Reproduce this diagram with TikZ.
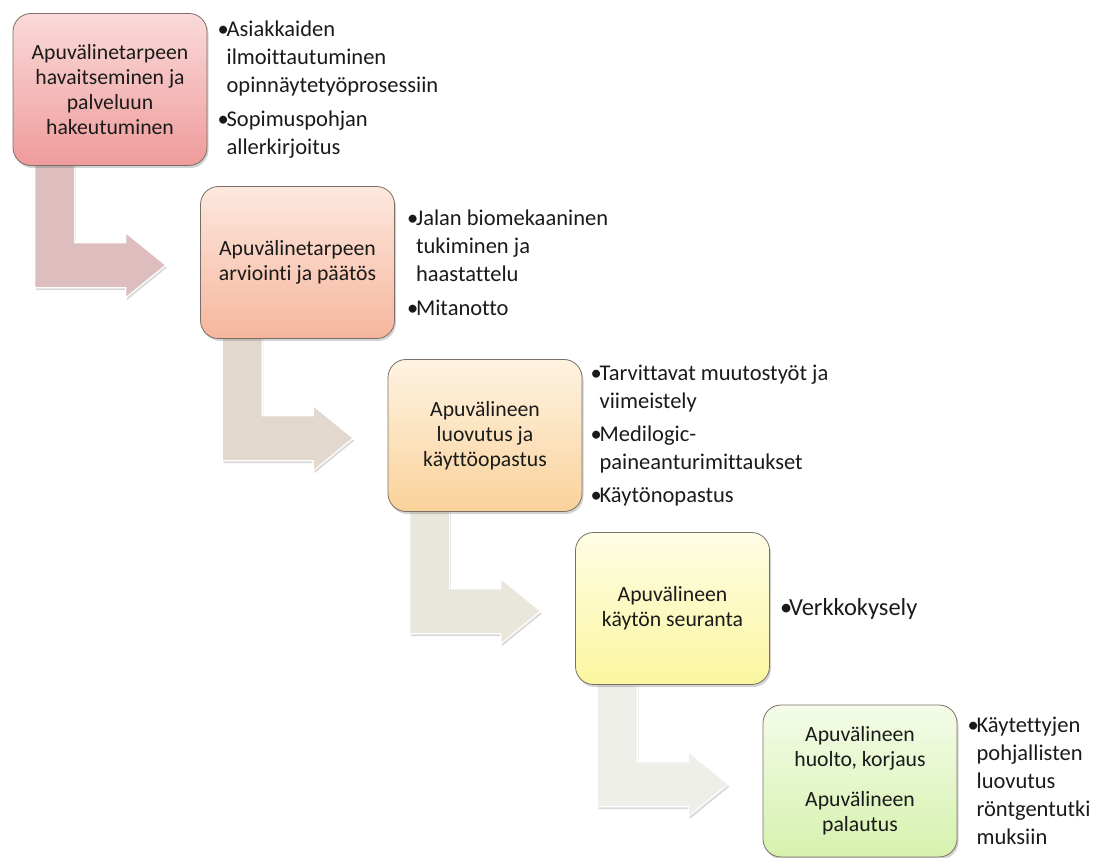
\documentclass[tikz,border=0pt]{standalone}
\usepackage{fontspec}
\setmainfont{Carlito}[Ligatures=NoCommon]
\usetikzlibrary{shadows,calc}
\definecolor{txt}{HTML}{1A1A1A}
\definecolor{boxline}{HTML}{7A6F66}
\definecolor{t1}{HTML}{FADAD9}\definecolor{u1}{HTML}{EF9B9B}
\definecolor{t2}{HTML}{FDE8DE}\definecolor{u2}{HTML}{F6B69D}
\definecolor{t3}{HTML}{FEF3E2}\definecolor{u3}{HTML}{FAD29A}
\definecolor{t4}{HTML}{FEFDE6}\definecolor{u4}{HTML}{FBF69F}
\definecolor{t5}{HTML}{F4FCE8}\definecolor{u5}{HTML}{D6F1AE}
\definecolor{a1}{HTML}{DDBDBE}
\definecolor{a2}{HTML}{E3D8CE}
\definecolor{a3}{HTML}{E9E6DC}
\definecolor{a4}{HTML}{EEEFE8}
\newcommand\bul{\makebox[9pt][l]{•}}
\newcommand\ind{\hspace*{9pt}}
\newcommand\bentarrow[2]{%
  \fill[bentshape, fill=#2]
    ($(#1.south west)+(22,-4)$) -- ($(#1.south west)+(62,-4)$)
    -- ($(#1.south west)+(62,77)$) -- ($(#1.south west)+(113,77)$)
    -- ($(#1.south west)+(113,67)$) -- ($(#1.south west)+(153,99.5)$)
    -- ($(#1.south west)+(113,132)$) -- ($(#1.south west)+(113,122)$)
    -- ($(#1.south west)+(22,122)$) -- cycle;}
\begin{document}
\begin{tikzpicture}[x=1pt,y=-1pt,
  box/.style={draw=boxline, line width=0.8pt, rounded corners=18pt,
    minimum width=194pt, minimum height=152pt, align=center, inner sep=4pt,
    font=\fontsize{21.7}{25}\selectfont, text=txt,
    drop shadow={opacity=0.35, shadow xshift=1.5pt, shadow yshift=-2.5pt}},
  note/.style={anchor=west, align=left, inner sep=0pt,
    font=\fontsize{22.5}{28}\selectfont, text=txt},
  bentshape/.style={draw=white, line width=1.2pt,
    drop shadow={opacity=0.3, shadow xshift=1pt, shadow yshift=-2.5pt}}]
\useasboundingbox (0,0) rectangle (1100,858);
\path (110,89.5) node[minimum width=194pt, minimum height=152pt] (p1) {};
\path (297.5,262.5) node[minimum width=194pt, minimum height=152pt] (p2) {};
\path (485,435.5) node[minimum width=194pt, minimum height=152pt] (p3) {};
\path (672.5,608.5) node[minimum width=194pt, minimum height=152pt] (p4) {};
\bentarrow{p1}{a1}
\bentarrow{p2}{a2}
\bentarrow{p3}{a3}
\bentarrow{p4}{a4}
\node[box, top color=t1, bottom color=u1] (b1) at (p1) {Apuvälinetarpeen\\havaitseminen ja\\palveluun\\hakeutuminen};
\node[box, top color=t2, bottom color=u2] (b2) at (p2) {Apuvälinetarpeen\\arviointi ja päätös};
\node[box, top color=t3, bottom color=u3] (b3) at (p3) {Apuvälineen\\luovutus ja\\käyttöopastus};
\node[box, top color=t4, bottom color=u4] (b4) at (p4) {Apuvälineen\\käytön seuranta};
\node[box, top color=t5, bottom color=u5] (b5) at (860,781) {Apuvälineen\\huolto, korjaus\\[15pt]Apuvälineen\\palautus};
\node[note] (n1) at ($(b1.east)+(10,0)$) {\bul Asiakkaiden\\\ind ilmoittautuminen\\\ind opinnäytetyöprosessiin\\[6pt]\bul Sopimuspohjan\\\ind allerkirjoitus};
\node[note] (n2) at ($(b2.east)+(12,0)$) {\bul Jalan biomekaaninen\\\ind tukiminen ja\\\ind haastattelu\\[6pt]\bul Mitanotto};
\node[note] (n3) at ($(b3.east)+(8,0)$) {\bul Tarvittavat muutostyöt ja\\\ind viimeistely\\[5pt]\bul Medilogic-\\\ind paineanturimittaukset\\[5pt]\bul Käytönopastus};
\node[note, font=\fontsize{24.5}{28}\selectfont] (n4) at ($(b4.east)+(10,0)$) {\bul Verkkokysely};
\node[note] (n5) at ($(b5.east)+(10,0)$) {\bul Käytettyjen\\\ind pohjallisten\\\ind luovutus\\\ind röntgentutki\\\ind muksiin};
\end{tikzpicture}
\end{document}
